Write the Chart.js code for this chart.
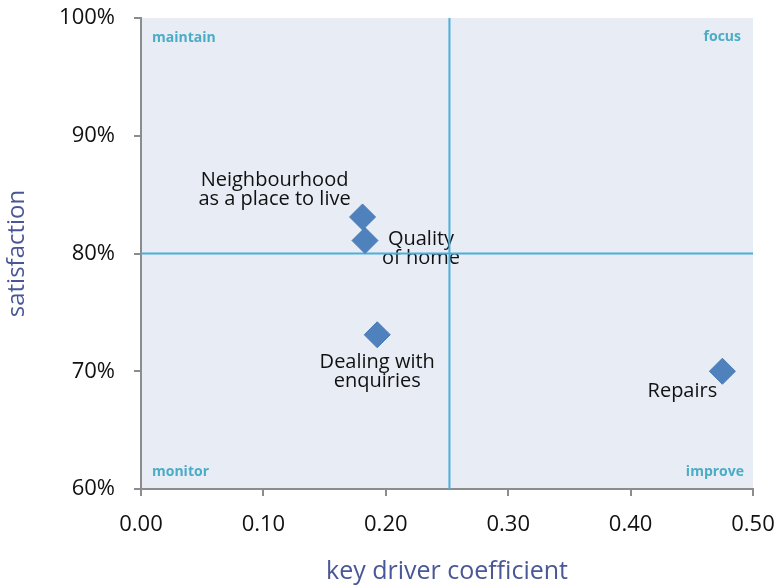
<!DOCTYPE html>
<html>
<head>
<meta charset="utf-8">
<script src="https://cdn.jsdelivr.net/npm/chart.js@4.4.0/dist/chart.umd.min.js"></script>
<style>
  html, body { margin: 0; padding: 0; background: #fff; }
  #wrap { width: 779px; height: 587px; }
</style>
</head>
<body>
<div id="wrap"><canvas id="chart"></canvas></div>
<script>
// Key driver values per survey area
const areas = [['Neighbourhood', 'as a place to live'], ['Quality', 'of home'], ['Dealing with', 'enquiries'], ['Repairs']];
const coefficient = [0.181, 0.183, 0.193, 0.475];
const satisfaction = [83.1, 81.1, 73.1, 70.0];

// Quadrant split
const splitX = 0.252;
const splitY = 80;

const xTicks = [0, 0.1, 0.2, 0.3, 0.4, 0.5];
const yTicks = [60, 70, 80, 90, 100];
const quadrants = ['maintain', 'focus', 'monitor', 'improve'];

// label placement relative to each point (px)
const labelOffsets = [[-88, -37], [56, -1], [0, 28], [-40, 20]];

const FONT = "'Open Sans', 'Noto Sans', sans-serif";
const LINE_BLUE = '#4BAEDB';

const backdrop = {
    id: 'backdrop',
    beforeDraw(chart) {
        const { ctx, chartArea: a } = chart;
        ctx.save();
        ctx.fillStyle = '#E8ECF4';
        ctx.fillRect(a.left, a.top, a.right - a.left, a.bottom - a.top);
        ctx.restore();
    }
};

// text goes under the quadrant lines and markers
const annotate = {
    id: 'annotate',
    beforeDatasetsDraw(chart) {
        const { ctx, chartArea: a } = chart;
        const xs = chart.scales.x, ys = chart.scales.y;
        ctx.save();

        // quadrant names
        ctx.font = 'bold 14px ' + FONT;
        ctx.fillStyle = '#4BACC6';
        ctx.textBaseline = 'middle';
        ctx.textAlign = 'left';
        ctx.fillText(quadrants[0], a.left + 11, a.top + 20);
        ctx.fillText(quadrants[2], a.left + 11, a.bottom - 17);
        ctx.textAlign = 'right';
        ctx.fillText(quadrants[1], a.right - 12, a.top + 19);
        ctx.fillText(quadrants[3], a.right - 9, a.bottom - 17);

        // point labels
        ctx.font = '20px ' + FONT;
        ctx.fillStyle = '#111';
        ctx.textAlign = 'center';
        areas.forEach((lines, i) => {
            const px = xs.getPixelForValue(coefficient[i]) + labelOffsets[i][0];
            const py = ys.getPixelForValue(satisfaction[i]) + labelOffsets[i][1];
            lines.forEach((t, j) => ctx.fillText(t, px, py + j * 19));
        });
        ctx.restore();
    }
};

new Chart(document.getElementById('chart'), {
    type: 'scatter',
    data: {
        datasets: [{
            label: 'areas',
            data: coefficient.map((c, i) => ({ x: c, y: satisfaction[i] })),
            pointStyle: 'rectRot',
            pointRadius: 13,
            pointHoverRadius: 13,
            backgroundColor: '#4F81BD',
            borderColor: '#4A7AB5',
            borderWidth: 1,
            order: 0
        }, {
            type: 'line',
            label: 'split x',
            data: [{ x: splitX, y: yTicks[0] }, { x: splitX, y: yTicks[yTicks.length - 1] }],
            borderColor: LINE_BLUE,
            borderWidth: 2,
            pointRadius: 0,
            order: 1
        }, {
            type: 'line',
            label: 'split y',
            data: [{ x: xTicks[0], y: splitY }, { x: xTicks[xTicks.length - 1], y: splitY }],
            borderColor: LINE_BLUE,
            borderWidth: 2,
            pointRadius: 0,
            order: 1
        }]
    },
    options: {
        responsive: true,
        maintainAspectRatio: false,
        animation: false,
        layout: { padding: { top: 18, right: 26, left: 0, bottom: 0 } },
        plugins: {
            legend: { display: false },
            tooltip: { enabled: false }
        },
        scales: {
            x: {
                type: 'linear',
                min: 0,
                max: 0.5,
                afterFit: s => { s.height = 98; s.paddingLeft = 0; s.paddingRight = 0; },
                afterBuildTicks: s => { s.ticks = xTicks.map(v => ({ value: v })); },
                grid: { drawOnChartArea: false, drawTicks: true, tickLength: 7, color: '#8C8C8C', lineWidth: 2 },
                border: { color: '#8C8C8C', width: 2 },
                ticks: {
                    padding: 16,
                    color: '#111',
                    font: { family: FONT, size: 22 },
                    callback: v => v.toFixed(2)
                },
                title: {
                    display: true,
                    text: 'key driver coefficient',
                    color: '#4A5797',
                    padding: { top: 0, bottom: 0 },
                    font: { family: FONT, size: 25 }
                }
            },
            y: {
                type: 'linear',
                min: 60,
                max: 100,
                afterFit: s => { s.width = 141; s.paddingTop = 0; s.paddingBottom = 0; },
                afterBuildTicks: s => { s.ticks = yTicks.map(v => ({ value: v })); },
                grid: { drawOnChartArea: false, drawTicks: true, tickLength: 7, color: '#8C8C8C', lineWidth: 2 },
                border: { color: '#8C8C8C', width: 2 },
                ticks: {
                    padding: 19,
                    color: '#111',
                    font: { family: FONT, size: 22 },
                    callback: v => v + '%'
                },
                title: {
                    display: true,
                    text: 'satisfaction',
                    color: '#4A5797',
                    padding: { top: 3, bottom: 0 },
                    font: { family: FONT, size: 24 }
                }
            }
        }
    },
    plugins: [backdrop, annotate]
});
</script>
</body>
</html>
